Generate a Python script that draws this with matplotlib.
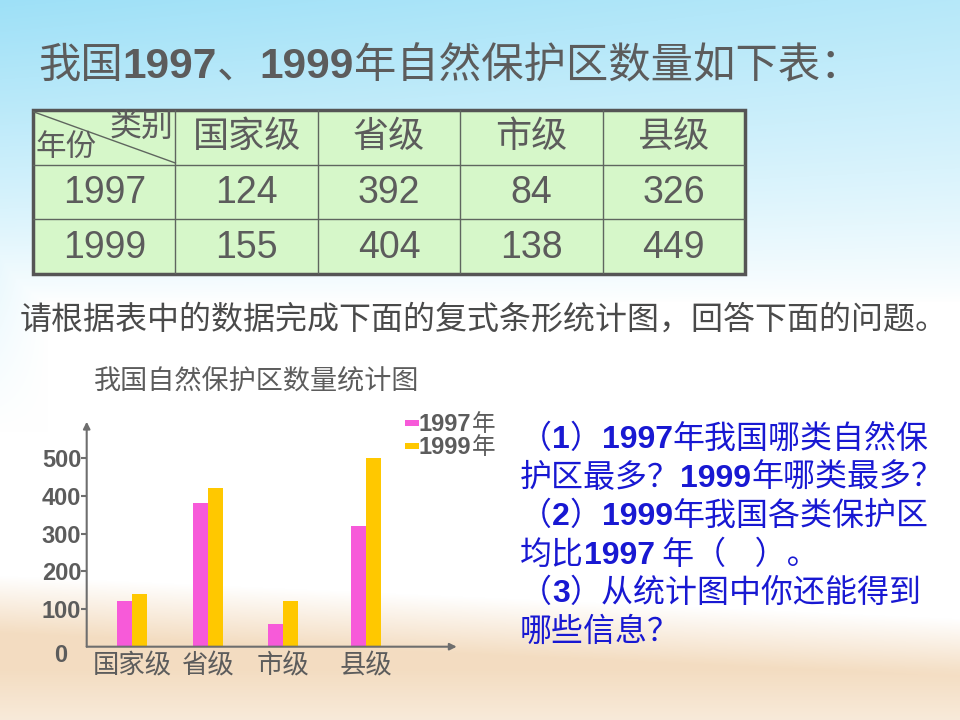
import re
import numpy as np
import matplotlib
matplotlib.use("Agg")
import matplotlib.pyplot as plt
from matplotlib.patches import Rectangle
from matplotlib.transforms import IdentityTransform

CJK = ['Noto Sans CJK SC', 'DejaVu Sans']
LATIN = ['Liberation Sans', 'DejaVu Sans']
plt.rcParams['font.family'] = CJK

# data
categories = ['国家级', '省级', '市级', '县级']
years = ['1997', '1999']
table_1997 = [124, 392, 84, 326]
table_1999 = [155, 404, 138, 449]
# bar heights as they were drawn on the slide's chart
bars_1997 = [120, 380, 60, 320]
bars_1999 = [140, 420, 120, 500]
yticks = [100, 200, 300, 400, 500]

title = '我国1997、1999年自然保护区数量如下表：'
subtitle = '请根据表中的数据完成下面的复式条形统计图，回答下面的问题。'
chart_title = '我国自然保护区数量统计图'
questions = [
    '（1）1997年我国哪类自然保',
    '护区最多？1999年哪类最多？',
    '（2）1999年我国各类保护区',
    '均比1997 年（    ）。',
    '（3）从统计图中你还能得到',
    '哪些信息？',
]

W, H = 960, 720
GRAY = '#5c5c5c'
PINK = '#f75ad9'
GOLD = '#ffc800'
BLUE = '#1818d2'

fig = plt.figure(figsize=(W / 100, H / 100), dpi=100)

# background: sky at the top, sand at the bottom
yy = np.linspace(0, 1, H)[:, None]
xx = np.linspace(0, 1, W)[None, :]
sky = np.array([0.62, 0.88, 0.97])
sand = np.array([0.95, 0.85, 0.73])
wb = np.clip(1 - yy / 0.42, 0, 1) ** 0.8 * (0.75 + 0.25 * (1 - xx))
wb = np.maximum(wb, np.clip(1 - xx / 0.05, 0, 1) * np.clip(1 - yy / 0.6, 0, 1) * 0.55)
ws = np.clip((yy - 0.80 - 0.06 * xx) / 0.08, 0, 1) * (0.9 - 0.35 * np.clip((yy - 0.93) / 0.07, 0, 1))
img = np.ones((H, W, 3)) * (1 - wb - ws)[..., None] + sky * wb[..., None] + sand * ws[..., None]
bg = fig.add_axes([0, 0, 1, 1], zorder=-5)
bg.imshow(np.clip(img, 0, 1), aspect='auto', extent=(0, 1, 0, 1))
bg.axis('off')

renderer = fig.canvas.get_renderer()


def mixed_text(x, y, s, size, color):
    # digits bold latin, the rest CJK; x, y are pixels from top-left (baseline)
    for part in re.findall(r'\d+|\D+', s):
        if part.isdigit():
            t = fig.text(x, H - y, part, transform=IdentityTransform(), fontsize=size,
                         family=LATIN, weight='bold', color=color, va='baseline')
        else:
            t = fig.text(x, H - y, part, transform=IdentityTransform(), fontsize=size,
                         family=CJK, color=color, va='baseline')
        x += t.get_window_extent(renderer).width


mixed_text(38, 78, title, 30.5, GRAY)
fig.text(20, H - 329, subtitle, transform=IdentityTransform(), fontsize=23,
         color='#4a4a4a', va='baseline')

# table
tab = fig.add_axes([33 / W, 1 - 274 / H, 712 / W, 164 / H])
tab.set_xlim(0, 5)
tab.set_ylim(3, 0)
tab.axis('off')
tab.add_patch(Rectangle((0, 0), 5, 3, fc='#d6f7c9', ec='none'))
for i in range(1, 5):
    tab.plot([i, i], [0, 3], color='#5f665f', lw=1)
for j in (1, 2):
    tab.plot([0, 5], [j, j], color='#5f665f', lw=1)
tab.add_patch(Rectangle((0, 0), 5, 3, fc='none', ec='#555555', lw=2.5, clip_on=False))
tab.plot([0, 1], [0.03, 0.97], color='#5f665f', lw=1)
tab.text(0.99, 0.3, '类别', ha='right', va='center', fontsize=23, color=GRAY)
tab.text(0.02, 0.68, '年份', ha='left', va='center', fontsize=22, color=GRAY)
for c, name in enumerate(categories):
    tab.text(c + 1.5, 0.5, name, ha='center', va='center', fontsize=26, color=GRAY)
for r, (yr, vals) in enumerate(zip(years, [table_1997, table_1999])):
    tab.text(0.5, r + 1.52, yr, ha='center', va='center', fontsize=27, color=GRAY, family=LATIN)
    for c, v in enumerate(vals):
        tab.text(c + 1.5, r + 1.52, str(v), ha='center', va='center', fontsize=27,
                 color=GRAY, family=LATIN)

# bar chart
x0, y0, x1, y1 = 86.7, 646.7, 456.7, 421.7
ax = fig.add_axes([x0 / W, 1 - y0 / H, (x1 - x0) / W, (y0 - y1) / H])
ax.patch.set_alpha(0)
pos = np.array([0, 1, 2, 3.1])
bw = 0.2
ax.bar(pos - bw / 2, bars_1997, bw, color=PINK)
ax.bar(pos + bw / 2, bars_1999, bw, color=GOLD)
ax.set_xlim(-0.6, 4.295)
ax.set_ylim(0, 597)
for s in ax.spines.values():
    s.set_visible(False)
arrow = dict(arrowstyle='-|>', color='#6e6e6e', lw=1.5, mutation_scale=10, shrinkA=0, shrinkB=0)
ax.annotate('', xy=(1, 0), xytext=(0, 0), xycoords='axes fraction', arrowprops=arrow)
ax.annotate('', xy=(0, 1), xytext=(0, 0), xycoords='axes fraction', arrowprops=arrow)
ax.set_yticks(yticks)
ax.set_yticklabels([str(v) for v in yticks], family=LATIN, weight='bold', fontsize=17, color=GRAY)
ax.tick_params(axis='y', length=4, width=1.5, color='#6e6e6e', pad=0)
ax.set_xticks(pos)
ax.set_xticklabels(categories, fontsize=19, color=GRAY)
ax.tick_params(axis='x', length=0, pad=4)
ax.annotate('0', xy=(0, 0), xycoords='axes fraction', xytext=(-26, -9),
            textcoords='offset pixels', ha='center', va='center', family=LATIN,
            weight='bold', fontsize=17, color=GRAY)

fig.text(257, H - 381, chart_title, transform=IdentityTransform(), fontsize=19.5,
         color=GRAY, ha='center', va='center')

# legend drawn like the slide's
for (yr, col, ytop) in [(years[0], PINK, 420), (years[1], GOLD, 443)]:
    fig.patches.append(Rectangle((405, H - ytop - 6), 14, 6, fc=col, ec='none',
                                 transform=IdentityTransform()))
    mixed_text(419, ytop + 11, yr + '年', 17, GRAY)

# questions
for i, line in enumerate(questions):
    mixed_text(520, 448 + i * 38.6, line, 23, BLUE)

fig.savefig('out.png', dpi=100)
